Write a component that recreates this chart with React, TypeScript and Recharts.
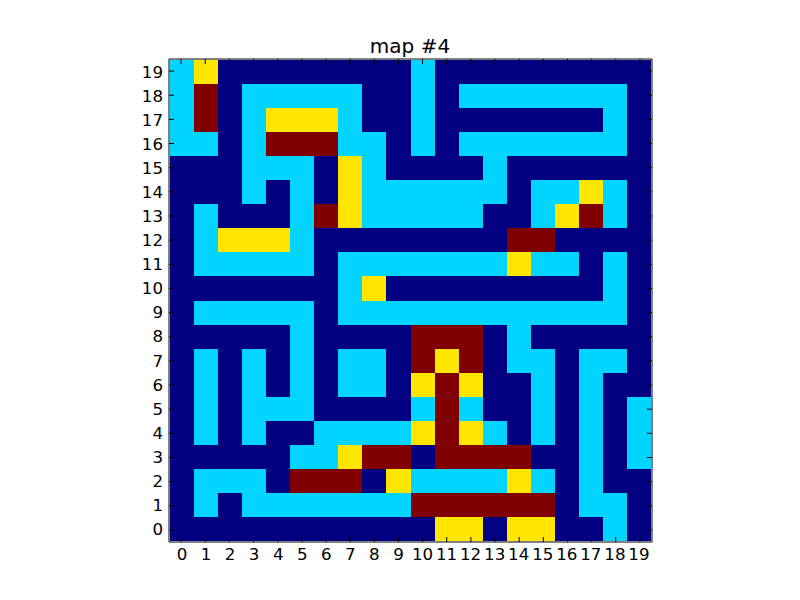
import { ScatterChart, Scatter, XAxis, YAxis } from 'recharts';

// map values, row 0 at the bottom; 0 empty, 1 path, 2 item, 3 wall
const ROW_0 = [0, 0, 0, 0, 0, 0, 0, 0, 0, 0, 0, 2, 2, 0, 2, 2, 0, 0, 1, 0];
const ROW_1 = [0, 1, 0, 1, 1, 1, 1, 1, 1, 1, 3, 3, 3, 3, 3, 3, 0, 1, 1, 0];
const ROW_2 = [0, 1, 1, 1, 0, 3, 3, 3, 0, 2, 1, 1, 1, 1, 2, 1, 0, 1, 0, 0];
const ROW_3 = [0, 0, 0, 0, 0, 1, 1, 2, 3, 3, 0, 3, 3, 3, 3, 0, 0, 1, 0, 1];
const ROW_4 = [0, 1, 0, 1, 0, 0, 1, 1, 1, 1, 2, 3, 2, 1, 0, 1, 0, 1, 0, 1];
const ROW_5 = [0, 1, 0, 1, 1, 1, 0, 0, 0, 0, 1, 3, 1, 0, 0, 1, 0, 1, 0, 1];
const ROW_6 = [0, 1, 0, 1, 0, 1, 0, 1, 1, 0, 2, 3, 2, 0, 0, 1, 0, 1, 0, 0];
const ROW_7 = [0, 1, 0, 1, 0, 1, 0, 1, 1, 0, 3, 2, 3, 0, 1, 1, 0, 1, 1, 0];
const ROW_8 = [0, 0, 0, 0, 0, 1, 0, 0, 0, 0, 3, 3, 3, 0, 1, 0, 0, 0, 0, 0];
const ROW_9 = [0, 1, 1, 1, 1, 1, 0, 1, 1, 1, 1, 1, 1, 1, 1, 1, 1, 1, 1, 0];
const ROW_10 = [0, 0, 0, 0, 0, 0, 0, 1, 2, 0, 0, 0, 0, 0, 0, 0, 0, 0, 1, 0];
const ROW_11 = [0, 1, 1, 1, 1, 1, 0, 1, 1, 1, 1, 1, 1, 1, 2, 1, 1, 0, 1, 0];
const ROW_12 = [0, 1, 2, 2, 2, 1, 0, 0, 0, 0, 0, 0, 0, 0, 3, 3, 0, 0, 0, 0];
const ROW_13 = [0, 1, 0, 0, 0, 1, 3, 2, 1, 1, 1, 1, 1, 0, 0, 1, 2, 3, 1, 0];
const ROW_14 = [0, 0, 0, 1, 0, 1, 0, 2, 1, 1, 1, 1, 1, 1, 0, 1, 1, 2, 1, 0];
const ROW_15 = [0, 0, 0, 1, 1, 1, 0, 2, 1, 0, 0, 0, 0, 1, 0, 0, 0, 0, 0, 0];
const ROW_16 = [1, 1, 0, 1, 3, 3, 3, 1, 1, 0, 1, 0, 1, 1, 1, 1, 1, 1, 1, 0];
const ROW_17 = [1, 3, 0, 1, 2, 2, 2, 1, 0, 0, 1, 0, 0, 0, 0, 0, 0, 0, 1, 0];
const ROW_18 = [1, 3, 0, 1, 1, 1, 1, 1, 0, 0, 1, 0, 1, 1, 1, 1, 1, 1, 1, 0];
const ROW_19 = [1, 2, 0, 0, 0, 0, 0, 0, 0, 0, 1, 0, 0, 0, 0, 0, 0, 0, 0, 0];

const ROWS = [
  ROW_0, ROW_1, ROW_2, ROW_3, ROW_4, ROW_5, ROW_6, ROW_7, ROW_8, ROW_9,
  ROW_10, ROW_11, ROW_12, ROW_13, ROW_14, ROW_15, ROW_16, ROW_17, ROW_18, ROW_19,
];

const TICKS = [0, 1, 2, 3, 4, 5, 6, 7, 8, 9, 10, 11, 12, 13, 14, 15, 16, 17, 18, 19];

// jet colormap sampled at 0..3
const JET = ['#000080', '#00d4ff', '#ffe600', '#800000'];

const TITLE = 'map #4';

const W = 800;
const H = 600;
const MARGIN = { top: 60, right: 149, bottom: 29, left: 130 };
const PLOT_W = W - MARGIN.left - 40 - MARGIN.right;
const PLOT_H = H - MARGIN.top - 30 - MARGIN.bottom;
const CELL_W = PLOT_W / TICKS.length;
const CELL_H = PLOT_H / TICKS.length;
// overlay: 1px mirrored axes on every side of the same plot box
const FRAME_MARGIN = { top: 59, right: 148, bottom: 58, left: 169 };

const FONT = '"DejaVu Sans", sans-serif';
const DOMAIN: [number, number] = [-0.5, 19.5];

const cells = ROWS.flatMap((row, y) => row.map((v, x) => ({ x, y, v })));

function CellShape(props: any) {
  const { cx, cy, payload } = props;
  return (
    <rect
      x={cx - CELL_W / 2}
      y={cy - CELL_H / 2}
      width={CELL_W}
      height={CELL_H}
      fill={JET[payload.v]}
      shapeRendering="crispEdges"
    />
  );
}

const NoShape = () => <g />;
const blank = () => '';

// frame + inward ticks, drawn in a second chart laid over the cells
function Frame() {
  const line = { stroke: '#000', strokeWidth: 1, strokeOpacity: 1 };
  const common = {
    type: 'number' as const,
    domain: DOMAIN,
    ticks: TICKS,
    interval: 0 as const,
    mirror: true,
    stroke: '#000',
    tickSize: 5,
    tickFormatter: blank,
    tickLine: line,
    axisLine: line,
  };
  return (
    <ScatterChart width={W} height={H} margin={FRAME_MARGIN}>
      <XAxis xAxisId="b" dataKey="x" orientation="bottom" height={1} {...common} />
      <XAxis xAxisId="t" dataKey="x" orientation="top" height={1} {...common} />
      <YAxis yAxisId="l" dataKey="y" orientation="left" width={1} {...common} />
      <YAxis yAxisId="r" dataKey="y" orientation="right" width={1} {...common} />
      <Scatter data={cells} xAxisId="b" yAxisId="l" shape={NoShape} isAnimationActive={false} />
      <Scatter data={cells} xAxisId="t" yAxisId="r" shape={NoShape} isAnimationActive={false} />
    </ScatterChart>
  );
}

export default function App() {
  const tickStyle = { fontSize: 16.67, fill: '#000', fontFamily: FONT };
  return (
    <div style={{ position: 'absolute', left: 0, top: 0, width: W, height: H, background: '#fff' }}>
      <ScatterChart width={W} height={H} margin={MARGIN}>
        <XAxis
          xAxisId="b"
          type="number"
          dataKey="x"
          domain={DOMAIN}
          ticks={TICKS}
          interval={0}
          orientation="bottom"
          height={30}
          tickSize={0}
          tickMargin={7}
          tick={tickStyle}
          axisLine={false}
        />
        <YAxis
          yAxisId="l"
          type="number"
          dataKey="y"
          domain={DOMAIN}
          ticks={TICKS}
          interval={0}
          orientation="left"
          width={40}
          tickSize={0}
          tickMargin={7}
          tick={tickStyle}
          axisLine={false}
        />
        <Scatter
          data={cells}
          xAxisId="b"
          yAxisId="l"
          shape={CellShape}
          isAnimationActive={false}
        />
      </ScatterChart>
      <div style={{ position: 'absolute', left: 0, top: 0 }}>
        <Frame />
      </div>
      <svg width={W} height={80} style={{ position: 'absolute', left: 0, top: 0 }}>
        <text x={410} y={53} textAnchor="middle" fontFamily={FONT} fontSize={20} fill="#000">
          {TITLE}
        </text>
      </svg>
    </div>
  );
}
